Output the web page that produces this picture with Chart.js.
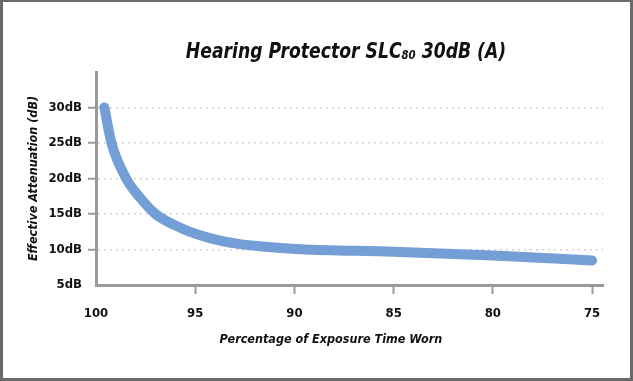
<!DOCTYPE html>
<html>
<head>
<meta charset="utf-8">
<script src="https://cdn.jsdelivr.net/npm/chart.js@4.4.1/dist/chart.umd.min.js"></script>
<style>
  html, body { margin: 0; padding: 0; background: #fff; }
  #wrap { position: relative; width: 633px; height: 381px; overflow: hidden; }
  #chart { position: absolute; left: 0; top: 0; }
  #frame {
    position: absolute; left: 0; top: 0; width: 633px; height: 381px;
    box-sizing: border-box; border-style: solid; border-color: #6a6a6a;
    border-width: 2px 3px 3px 3px; pointer-events: none;
  }
  .txt {
    position: absolute; text-align: center; color: #111; white-space: nowrap;
    font-family: 'DejaVu Sans Condensed', 'Liberation Sans Narrow', Arial, sans-serif;
    font-weight: bold; font-style: italic;
  }
  #title {
    left: 0; width: 692px; top: 38px; font-size: 22px; line-height: 26px;
    transform: scaleX(0.87); transform-origin: 346px 0;
  }
  #title sub { font-size: 13px; vertical-align: baseline; position: relative; top: 1px; }
  #xtitle { left: 0; width: 662px; top: 330px; font-size: 12.5px; line-height: 18px; }
</style>
</head>
<body>
<div id="wrap">
  <canvas id="chart" width="633" height="381"></canvas>
  <div class="txt" id="title">Hearing Protector SLC<sub>80</sub> 30dB (A)</div>
  <div class="txt" id="xtitle">Percentage of Exposure Time Worn</div>
  <div id="frame"></div>
</div>
<script>
// percentage of exposure time worn
const tiempoUso = [99.58, 99.22, 98.48, 97.78, 97.0, 95.7, 94.76, 93.75, 92.75, 91.75, 89.7, 85, 80, 75];
// effective attenuation (dB)
const atenuacion = [30, 25, 20, 17.3, 15.0, 13.0, 12.0, 11.25, 10.75, 10.45, 10.05, 9.7, 9.15, 8.45];

const xTicks = [100, 95, 90, 85, 80, 75];
const yTicks = [5, 10, 15, 20, 25, 30];

let puntos = [];
tiempoUso.forEach((t, i) => {
    puntos.push({ x: t, y: atenuacion[i] });
});

const fuente = "'DejaVu Sans Condensed', 'Liberation Sans Narrow', Arial, sans-serif";

const ctx = document.getElementById('chart');
const chart = new Chart(ctx, {
    type: 'line',
    data: {
        datasets: [{
            data: puntos,
            borderColor: '#739fd6',
            borderWidth: 10,
            borderCapStyle: 'round',
            borderJoinStyle: 'round',
            cubicInterpolationMode: 'monotone',
            pointRadius: 0,
            fill: false
        }]
    },
    options: {
        responsive: false,
        animation: false,
        layout: {
            padding: { top: 72, right: 30, left: 0, bottom: 0 }
        },
        plugins: {
            legend: { display: false },
            tooltip: { enabled: false }
        },
        scales: {
            x: {
                type: 'linear',
                reverse: true,
                min: 74.45,
                max: 100,
                afterBuildTicks: (scale) => {
                    scale.ticks = xTicks.map(v => ({ value: v }));
                },
                afterFit: (scale) => { scale.height = 96; },
                ticks: {
                    color: '#111',
                    padding: 12,
                    maxRotation: 0,
                    font: { family: fuente, size: 13, weight: 'bold' }
                },
                grid: {
                    drawOnChartArea: false,
                    tickLength: 9,
                    tickWidth: 2,
                    tickColor: (c) => c.tick && c.tick.value === 100 ? 'rgba(0,0,0,0)' : '#9a9a9a'
                },
                border: { color: '#9a9a9a', width: 3 }
            },
            y: {
                min: 5,
                max: 35,
                afterBuildTicks: (scale) => {
                    scale.ticks = yTicks.map(v => ({ value: v }));
                },
                afterFit: (scale) => { scale.width = 96; },
                ticks: {
                    color: '#111',
                    padding: 6,
                    font: { family: fuente, size: 13, weight: 'bold' },
                    callback: (v) => v + 'dB'
                },
                grid: {
                    color: (c) => c.tick && c.tick.value > 5 ? '#c4c4c4' : 'rgba(0,0,0,0)',
                    lineWidth: 1.5,
                    tickLength: 8,
                    tickWidth: 2,
                    tickColor: (c) => c.tick && c.tick.value > 5 ? '#9a9a9a' : 'rgba(0,0,0,0)'
                },
                border: { color: '#9a9a9a', width: 3, dash: [1.5, 4.5] },
                title: {
                    display: true,
                    text: 'Effective Attenuation (dB)',
                    color: '#111',
                    padding: { top: 26, bottom: 0 },
                    font: { family: fuente, size: 12.5, weight: 'bold', style: 'italic' }
                }
            }
        }
    }
});
</script>
</body>
</html>
